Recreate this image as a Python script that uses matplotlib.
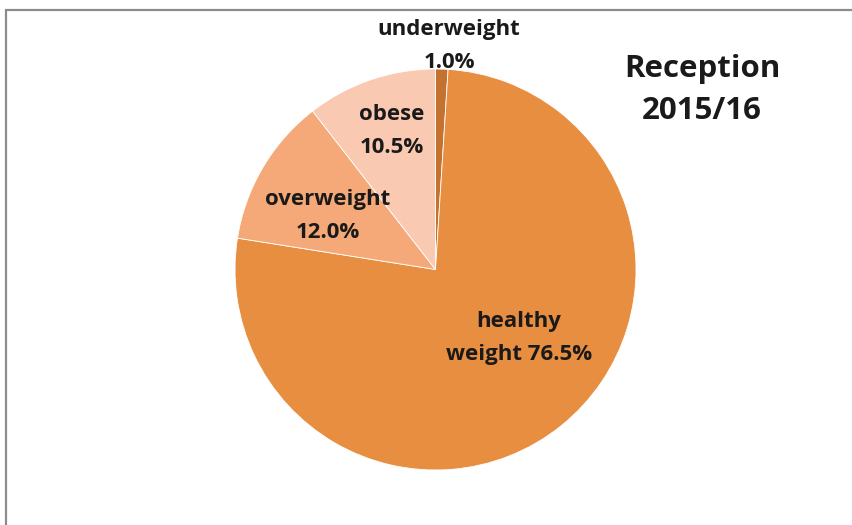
import matplotlib.pyplot as plt
from matplotlib.patches import Rectangle

# Weight categories, clockwise from 12 o'clock
categories = ['underweight', 'healthy weight', 'overweight', 'obese']
shares = [1.0, 76.5, 12.0, 10.5]
colors = ['#C4722F', '#E88E41', '#F5A978', '#F9C9B1']

W, H = 853, 525
fig = plt.figure(figsize=(W / 100, H / 100), dpi=100)

# chart frame (cut off on the right and bottom like the source)
fig.patches.append(Rectangle((6 / W, -0.1), 1.1, 1 - 10 / H + 0.1,
                             transform=fig.transFigure, fill=False,
                             edgecolor='#8c8c8c', linewidth=1.6))

ax = fig.add_axes([235 / W, 55 / H, 401 / W, 401 / H])
ax.pie(shares, colors=colors, startangle=90, counterclock=False,
       wedgeprops=dict(edgecolor='white', linewidth=0.6))
ax.set_xlim(-1, 1)
ax.set_ylim(-1, 1)
ax.set_aspect('equal')

font = dict(family='Open Sans', fontweight='bold', color='#1a1a1a',
            ha='center', va='center')

def px(x, y, s, size=16, ls=1.7):
    fig.text(x / W, 1 - y / H, s, fontsize=size, linespacing=ls, **font)

px(449, 30, 'underweight')
px(449, 62, f'{shares[0]:.1f}%')
px(392, 131, f'obese\n{shares[3]:.1f}%')
px(328, 216, f'overweight\n{shares[2]:.1f}%')
px(519, 338, f'healthy\nweight {shares[1]:.1f}%')
px(702, 90, 'Reception\n2015/16', size=22.5, ls=1.55)

fig.savefig('out.png', dpi=100)
